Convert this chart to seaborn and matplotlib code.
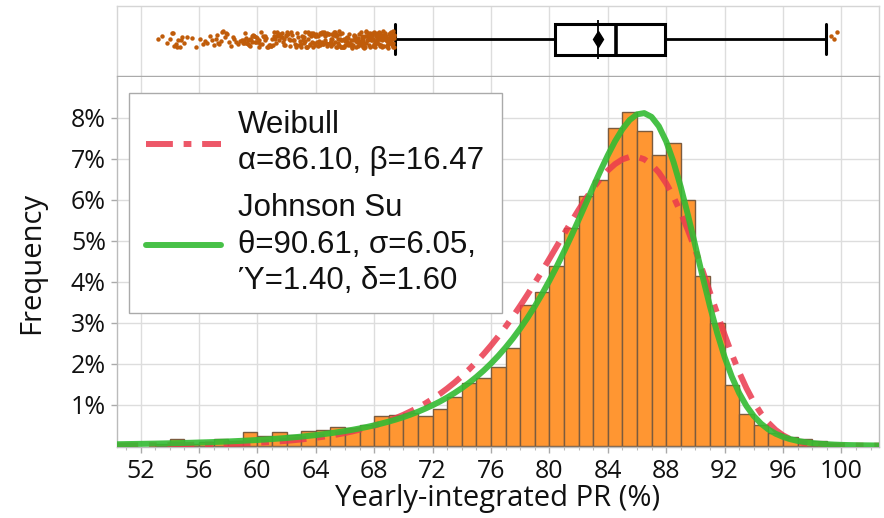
import numpy as np
import pandas as pd
import matplotlib
matplotlib.use("Agg")
import matplotlib.pyplot as plt
import seaborn as sns
from matplotlib.ticker import MultipleLocator, FixedLocator, FuncFormatter
from matplotlib.font_manager import FontProperties

# ---------------- data ----------------
bin_left = list(range(53, 100))
freq_pct = [0.03, 0.16, 0.05, 0.08, 0.16, 0.12, 0.33, 0.24, 0.33, 0.25,
            0.36, 0.39, 0.46, 0.42, 0.50, 0.72, 0.75, 0.80, 0.72, 0.90,
            1.18, 1.52, 1.64, 1.92, 2.37, 3.42, 3.75, 4.37, 5.30, 6.10,
            6.48, 7.74, 8.13, 7.67, 7.10, 7.37, 5.99, 4.14, 2.98, 1.48,
            0.77, 0.50, 0.32, 0.22, 0.16, 0.12, 0.05]

x_ticks = list(range(52, 101, 4))
y_ticks = [1, 2, 3, 4, 5, 6, 7, 8]

box_q1, box_med, box_q3 = 80.4, 84.6, 87.9
box_mean = 83.35
whisk_lo, whisk_hi = 69.4, 98.95
out_bins_lo = list(range(53, 70))
out_counts = [3, 11, 3, 6, 11, 8, 22, 17, 22, 17, 25, 28, 32, 29, 35, 50, 20]
out_hi = [99.3, 99.5, 99.7]

curve_x = [50.0 + 0.5 * k for k in range(107)]
weib_pct = [0.004, 0.005, 0.006, 0.007, 0.008, 0.009, 0.011, 0.012, 0.014, 0.016,
            0.019, 0.021, 0.025, 0.028, 0.032, 0.037, 0.042, 0.048, 0.055, 0.063,
            0.071, 0.081, 0.092, 0.105, 0.118, 0.134, 0.152, 0.171, 0.193, 0.217,
            0.245, 0.275, 0.309, 0.347, 0.389, 0.435, 0.487, 0.544, 0.607, 0.676,
            0.752, 0.837, 0.929, 1.030, 1.141, 1.262, 1.394, 1.537, 1.692, 1.859,
            2.040, 2.234, 2.442, 2.664, 2.899, 3.147, 3.409, 3.682, 3.965, 4.257,
            4.555, 4.857, 5.159, 5.457, 5.747, 6.023, 6.279, 6.510, 6.708, 6.867,
            6.981, 7.041, 7.044, 6.984, 6.857, 6.662, 6.400, 6.073, 5.686, 5.248,
            4.769, 4.262, 3.740, 3.218, 2.711, 2.233, 1.793, 1.403, 1.066, 0.785,
            0.559, 0.384, 0.254, 0.161, 0.098, 0.056, 0.031, 0.016, 0.008, 0.004,
            0.002, 0.001, 0.000, 0.000, 0.000, 0.000, 0.000]
jsu_pct = [0.034, 0.036, 0.039, 0.042, 0.045, 0.048, 0.051, 0.055, 0.059, 0.063,
           0.067, 0.072, 0.078, 0.083, 0.089, 0.096, 0.103, 0.111, 0.120, 0.129,
           0.139, 0.150, 0.162, 0.175, 0.189, 0.204, 0.221, 0.239, 0.258, 0.280,
           0.303, 0.329, 0.356, 0.387, 0.420, 0.456, 0.496, 0.540, 0.587, 0.639,
           0.696, 0.759, 0.827, 0.903, 0.985, 1.075, 1.174, 1.283, 1.402, 1.532,
           1.675, 1.831, 2.002, 2.189, 2.392, 2.613, 2.854, 3.114, 3.395, 3.697,
           4.020, 4.364, 4.727, 5.107, 5.501, 5.903, 6.306, 6.702, 7.078, 7.422,
           7.715, 7.941, 8.079, 8.110, 8.018, 7.790, 7.424, 6.926, 6.313, 5.617,
           4.873, 4.122, 3.402, 2.745, 2.168, 1.682, 1.284, 0.969, 0.724, 0.537,
           0.397, 0.292, 0.215, 0.159, 0.117, 0.087, 0.064, 0.048, 0.036, 0.027,
           0.020, 0.015, 0.012, 0.009, 0.007, 0.005, 0.004]

weib_label = "Weibull\nα=86.10, β=16.47"
jsu_label = "Johnson Su\nθ=90.61, σ=6.05,\nΎ=1.40, δ=1.60"

# ---------------- style ----------------
sns.set_theme(style="white")
plt.rcParams["font.family"] = ["Open Sans", "DejaVu Sans"]

W, H = 884, 518
fig = plt.figure(figsize=(W / 100, H / 100), dpi=100)
ax_box = fig.add_axes([117 / W, 1 - 76 / H, 762 / W, 70 / H])
ax = fig.add_axes([117 / W, 1 - 447 / H, 762 / W, 370 / H])

XL = (50.39, 102.58)

edges = bin_left + [bin_left[-1] + 1]
centers = [v + 0.5 for v in bin_left]
sns.histplot(x=centers, weights=freq_pct, bins=edges, stat="count", ax=ax,
             color="#FF9632", edgecolor="#7B5B3E", linewidth=1.0, alpha=1.0, zorder=2)

sns.lineplot(x=curve_x, y=weib_pct, ax=ax, color="#EA3A4E", alpha=0.85,
             linewidth=4.3, label=weib_label, zorder=3)
ax.lines[-1].set_linestyle((0, (4.5, 1.8, 1.3, 1.8)))
sns.lineplot(x=curve_x, y=jsu_pct, ax=ax, color="#33BB33", alpha=0.9,
             linewidth=4.3, label=jsu_label, zorder=4)

ax.set_xlim(*XL)
ax.set_ylim(-0.032, 8.99)
ax.xaxis.set_major_locator(FixedLocator(x_ticks))
ax.xaxis.set_minor_locator(MultipleLocator(1))
ax.yaxis.set_major_locator(FixedLocator(y_ticks))
ax.yaxis.set_major_formatter(FuncFormatter(lambda v, p: f"{v:.0f}%"))
ax.grid(True, which="major", color="#DDDDDD", linewidth=1.0, zorder=0)
ax.set_axisbelow(True)
for s in ["left", "bottom", "right"]:
    ax.spines[s].set_color("#BBBBBB")
    ax.spines[s].set_linewidth(1.0)
ax.spines["top"].set_visible(False)
ax.tick_params(axis="both", which="major", length=4, width=1, color="#AAAAAA",
               labelsize=18, labelcolor="#111111", pad=4, bottom=True, left=True)
ax.tick_params(axis="x", which="major", pad=5)
ax.tick_params(axis="x", which="minor", length=2.5, width=0.8, color="#BBBBBB", bottom=True)

ax.set_xlabel("Yearly-integrated PR (%)", fontsize=21, color="#111111", va="top")
ax.set_ylabel("Frequency", fontsize=21, color="#111111")
ax.xaxis.set_label_coords(0.5, -0.099)
ax.yaxis.set_label_coords(-0.093, 0.497)

leg = ax.legend(loc="upper left", bbox_to_anchor=(0.0157, 0.957), borderaxespad=0,
                prop=FontProperties(family="Liberation Sans", size=22.5),
                frameon=True, fancybox=False, framealpha=1.0, edgecolor="#AAAAAA",
                handlelength=2.4, handletextpad=0.55, borderpad=0.55, labelspacing=0.55)
leg.get_frame().set_linewidth(1.0)
for t in leg.get_texts():
    t.set_color("#111111")
    t.set_linespacing(1.27)

# ---------------- box panel ----------------
out_x = []
for lo, n in zip(out_bins_lo, out_counts):
    hi = min(lo + 1, whisk_lo)
    out_x += [lo + (i + 0.5) / n * (hi - lo) for i in range(n)]
out_x += out_hi
np.random.seed(3)
sns.stripplot(x=out_x, ax=ax_box, color="#C05C0A", size=3.2, jitter=0.24,
              orient="h", zorder=3, linewidth=0)

stats = [dict(med=box_med, q1=box_q1, q3=box_q3, whislo=whisk_lo, whishi=whisk_hi,
              mean=box_mean, fliers=[])]
bkw = dict(positions=[0], widths=0.886, showfliers=False, showmeans=False,
           patch_artist=True, capwidths=0.857,
           boxprops=dict(facecolor="white", edgecolor="black", linewidth=2.2),
           whiskerprops=dict(color="black", linewidth=2.0),
           capprops=dict(color="black", linewidth=2.2),
           medianprops=dict(color="black", linewidth=2.6))
try:
    ax_box.bxp(stats, orientation="horizontal", **bkw)
except TypeError:
    ax_box.bxp(stats, vert=False, **bkw)
ax_box.vlines(box_mean, -0.57, 0.57, color="black", linewidth=1.3, zorder=5)
ax_box.plot([box_mean], [0], marker="d", markersize=8, color="black", zorder=6)

ax_box.set_xlim(*XL)
ax_box.set_ylim(-1.043, 0.957)
ax_box.xaxis.set_major_locator(FixedLocator(x_ticks))
ax_box.set_yticks([])
ax_box.tick_params(axis="both", which="both", length=0, labelbottom=False, labelleft=False)
ax_box.grid(True, axis="x", color="#DDDDDD", linewidth=1.0)
ax_box.grid(False, axis="y")
ax_box.set_axisbelow(True)
for s in ["left", "top", "right"]:
    ax_box.spines[s].set_color("#D5D5D5")
    ax_box.spines[s].set_linewidth(1.0)
ax_box.spines["bottom"].set_color("#AAAAAA")
ax_box.spines["bottom"].set_linewidth(1.0)
ax_box.set_xlabel("")
ax_box.set_ylabel("")

fig.savefig("out.png", dpi=100)
